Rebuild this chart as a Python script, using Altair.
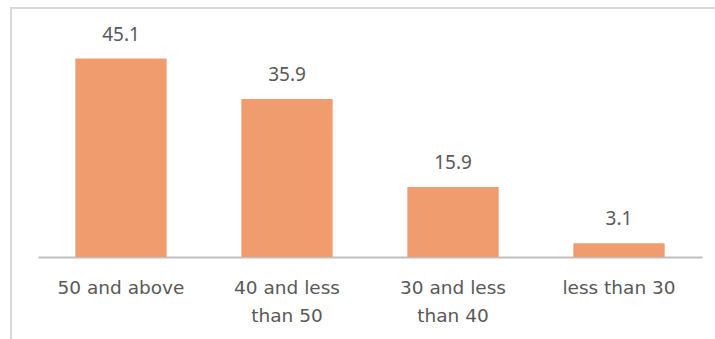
import altair as alt
import pandas as pd

categories = ["50 and above", "40 and less than 50", "30 and less than 40", "less than 30"]
values = [45.1, 35.9, 15.9, 3.1]
label_lines = {
    "50 and above": ["50 and above"],
    "40 and less than 50": ["40 and less", "than 50"],
    "30 and less than 40": ["30 and less", "than 40"],
    "less than 30": ["less than 30"],
}

df = pd.DataFrame({"category": categories, "value": values})

AXIS_FONT = "DejaVu Sans"
VALUE_FONT = "Noto Sans"
TEXT_COLOR = "#595959"

expr_parts = []
for k, lines in label_lines.items():
    arr = "[" + ",".join("'" + l + "'" for l in lines) + "]"
    expr_parts.append(f"datum.label == '{k}' ? {arr}")
label_expr = " : ".join(expr_parts) + " : datum.label"

x = alt.X(
    "category:N",
    sort=categories,
    title=None,
    scale=alt.Scale(paddingInner=0.45, paddingOuter=0.225),
    axis=alt.Axis(
        labelAngle=0,
        labelExpr=label_expr,
        labelFont=AXIS_FONT,
        labelFontSize=18.5,
        labelColor=TEXT_COLOR,
        labelPadding=21,
        labelLineHeight=28,
        ticks=False,
        domainColor="#BFBFBF",
        domainWidth=2,
        grid=False,
    ),
)
y = alt.Y("value:Q", scale=alt.Scale(domain=[0, 50]), axis=None)

base = alt.Chart(df)
bars = base.mark_bar(color="#F09C6E").encode(x=x, y=y)
labels = base.mark_text(
    dy=-14, baseline="bottom", font=VALUE_FONT, fontSize=19, color=TEXT_COLOR
).encode(x=x, y=y, text=alt.Text("value:Q", format=".1f"))

frame_left = alt.Chart(df).mark_rule(color="#D9D9D9", strokeWidth=2).encode(
    x=alt.value(-27), y=alt.value(-29), y2=alt.value(320)
)
frame_top = alt.Chart(df).mark_rule(color="#D9D9D9", strokeWidth=2).encode(
    x=alt.value(-28), x2=alt.value(700), y=alt.value(-29)
)

chart = (
    alt.layer(frame_left, frame_top, bars, labels)
    .properties(
        width=664,
        height=220,
        autosize=alt.AutoSizeParams(type="none"),
        padding={"left": 38, "top": 37, "right": 13, "bottom": 82},
        background="white",
    )
    .configure_view(stroke=None)
)

chart.save("out.html", embed_options={"renderer": "svg", "actions": False})
